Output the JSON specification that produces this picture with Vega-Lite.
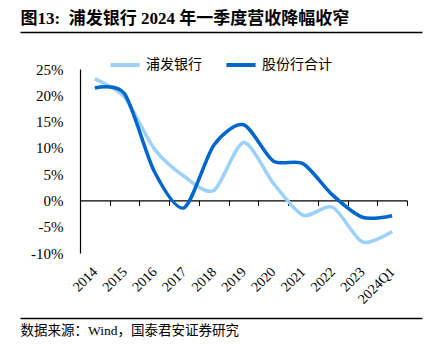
{
  "$schema": "https://vega.github.io/schema/vega-lite/v6.json",
  "width": 327,
  "height": 184,
  "autosize": {"type": "none"},
  "padding": {"left": 80, "top": 69, "right": 26, "bottom": 97},
  "config": {
    "view": {"stroke": null},
    "font": "Liberation Serif, Noto Sans CJK SC",
    "axis": {"grid": false, "domainColor": "#000000", "tickColor": "#000000", "labelColor": "#000000", "titleColor": "#000000"}
  },
  "layer": [
    {
      "data": {
        "values": [
          {"year": "2014", "series": "浦发银行", "value": 23.1},
          {"year": "2015", "series": "浦发银行", "value": 19.6},
          {"year": "2016", "series": "浦发银行", "value": 9.8},
          {"year": "2017", "series": "浦发银行", "value": 4.6},
          {"year": "2018", "series": "浦发银行", "value": 1.9},
          {"year": "2019", "series": "浦发银行", "value": 11.0},
          {"year": "2020", "series": "浦发银行", "value": 3.3},
          {"year": "2021", "series": "浦发银行", "value": -2.8},
          {"year": "2022", "series": "浦发银行", "value": -1.3},
          {"year": "2023", "series": "浦发银行", "value": -7.9},
          {"year": "2024Q1", "series": "浦发银行", "value": -5.9},
          {"year": "2014", "series": "股份行合计", "value": 21.4},
          {"year": "2015", "series": "股份行合计", "value": 20.3},
          {"year": "2016", "series": "股份行合计", "value": 5.5},
          {"year": "2017", "series": "股份行合计", "value": -1.4},
          {"year": "2018", "series": "股份行合计", "value": 10.5},
          {"year": "2019", "series": "股份行合计", "value": 14.4},
          {"year": "2020", "series": "股份行合计", "value": 7.5},
          {"year": "2021", "series": "股份行合计", "value": 7.0},
          {"year": "2022", "series": "股份行合计", "value": 1.0},
          {"year": "2023", "series": "股份行合计", "value": -3.2},
          {"year": "2024Q1", "series": "股份行合计", "value": -2.9}
        ]
      },
      "mark": {"type": "line", "interpolate": "cardinal", "tension": 0.2, "strokeWidth": 3.5},
      "encoding": {
        "x": {
          "field": "year",
          "type": "ordinal",
          "sort": null,
          "scale": {"type": "band", "paddingInner": 0, "paddingOuter": 0},
          "axis": {
            "title": null,
            "orient": "bottom",
            "offset": -52.57,
            "tickBand": "extent",
            "tickSize": 5,
            "tickWidth": 1,
            "domainWidth": 1.2,
            "labelAngle": -45,
            "labelAlign": "right",
            "labelBaseline": "middle",
            "labelPadding": 64,
            "labelFontSize": 14,
            "labelFont": "Liberation Serif",
            "labelOverlap": false
          }
        },
        "y": {
          "field": "value",
          "type": "quantitative",
          "scale": {"domain": [-10, 25], "nice": false, "zero": false},
          "axis": {
            "title": null,
            "values": [-10, -5, 0, 5, 10, 15, 20, 25],
            "labelExpr": "datum.value + '%'",
            "ticks": false,
            "domainWidth": 1.2,
            "labelPadding": 17,
            "labelFontSize": 15,
            "labelFont": "Liberation Serif"
          }
        },
        "color": {
          "field": "series",
          "type": "nominal",
          "sort": ["浦发银行", "股份行合计"],
          "scale": {"domain": ["浦发银行", "股份行合计"], "range": ["#9CD1FA", "#0066CC"]},
          "legend": {
            "title": null,
            "orient": "none",
            "legendX": 28,
            "legendY": -21,
            "direction": "horizontal",
            "padding": 0,
            "symbolType": "stroke",
            "symbolSize": 850,
            "symbolStrokeWidth": 4,
            "labelFontSize": 14,
            "labelFont": "Noto Sans CJK SC",
            "labelColor": "#000000",
            "labelOffset": 4,
            "columnPadding": 16
          }
        }
      }
    },
    {
      "data": {"values": [{"d": 0}, {"d": 1}]},
      "mark": {"type": "point", "opacity": 0},
      "encoding": {
        "x": {
          "field": "d",
          "type": "quantitative",
          "scale": {"domain": [0, 1], "range": [-60, 342]},
          "axis": {
            "orient": "top",
            "offset": 37,
            "ticks": false,
            "labels": false,
            "grid": false,
            "domainWidth": 1.5,
            "title": "图13:\u00a0\u00a0浦发银行\u00a02024\u00a0年一季度营收降幅收窄",
            "titleAnchor": "start",
            "titleAlign": "left",
            "titleFont": "Liberation Serif, Noto Sans CJK SC",
            "titleFontSize": 17,
            "titleFontWeight": "bold",
            "titlePadding": 5
          }
        }
      }
    },
    {
      "data": {"values": [{"d": 0}, {"d": 1}]},
      "mark": {"type": "point", "opacity": 0},
      "encoding": {
        "x": {
          "field": "d",
          "type": "quantitative",
          "scale": {"domain": [0, 1], "range": [-60, 342]},
          "axis": {
            "orient": "bottom",
            "offset": 65,
            "ticks": false,
            "labels": false,
            "grid": false,
            "domainWidth": 1.5,
            "title": "数据来源：Wind，国泰君安证券研究",
            "titleAnchor": "start",
            "titleAlign": "left",
            "titleFont": "Liberation Serif, Noto Sans CJK SC",
            "titleFontSize": 13.5,
            "titleFontWeight": "normal",
            "titlePadding": 5
          }
        }
      }
    }
  ],
  "resolve": {"scale": {"x": "independent"}, "axis": {"x": "independent"}}
}
